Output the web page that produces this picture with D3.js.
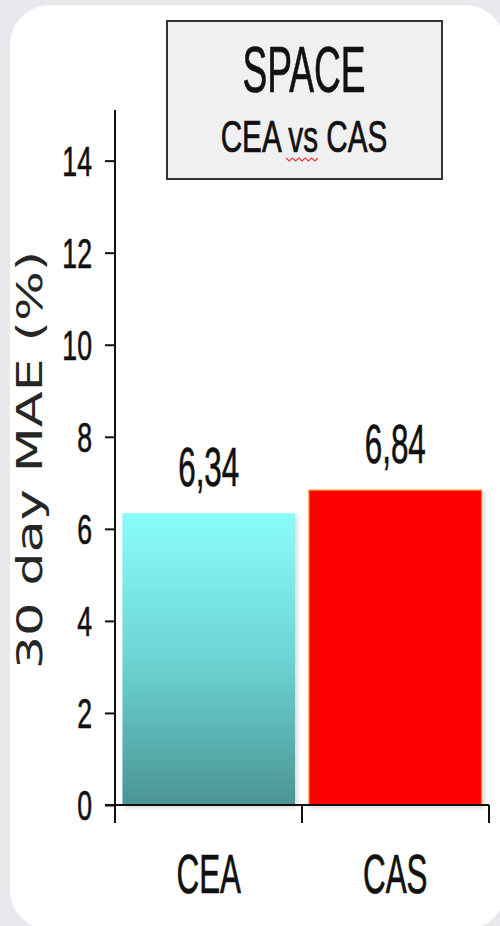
<!DOCTYPE html>
<html>
<head>
<meta charset="utf-8">
<script src="https://cdn.jsdelivr.net/npm/d3@7"></script>
<style>
  html, body { margin: 0; padding: 0; background: #e7e9ec; overflow: hidden; }
  svg { display: block; }
</style>
</head>
<body>
<svg id="chart" width="500" height="926"></svg>
<script>
// Study data: 30-day major adverse events, CEA vs CAS (SPACE trial)
const categories = ["CEA", "CAS"];
const values = [6.34, 6.84];
const yTicks = [0, 2, 4, 6, 8, 10, 12, 14];
const titleLines = ["SPACE", "CEA vs CAS"];
const yTitle = "30 day MAE (%)";

const fmtComma = v => d3.format(".2f")(v).replace(".", ",");

const svg = d3.select("#chart");

// Card background
svg.append("rect")
  .attr("x", 0).attr("y", 0).attr("width", 500).attr("height", 926)
  .attr("fill", "#e7e9ec");
svg.append("rect")
  .attr("x", 10).attr("y", 5).attr("width", 495).attr("height", 925)
  .attr("rx", 40).attr("ry", 40)
  .attr("fill", "#ffffff");

// Gradient for CEA bar
const defs = svg.append("defs");
const grad = defs.append("linearGradient")
  .attr("id", "ceaGrad").attr("x1", 0).attr("y1", 0).attr("x2", 0).attr("y2", 1);
grad.append("stop").attr("offset", "0%").attr("stop-color", "#8afcfc");
grad.append("stop").attr("offset", "50%").attr("stop-color", "#6cd4d4");
grad.append("stop").attr("offset", "100%").attr("stop-color", "#4b9494");

const shadow = defs.append("filter").attr("id", "barShadow")
  .attr("x", "-10%").attr("y", "-10%").attr("width", "130%").attr("height", "130%");
shadow.append("feDropShadow")
  .attr("dx", 2).attr("dy", 2).attr("stdDeviation", 2)
  .attr("flood-color", "#000").attr("flood-opacity", 0.18);

// Scales
const y = d3.scaleLinear().domain([0, 15.1]).range([805, 110]);
const x = d3.scaleBand().domain(categories).range([115, 489])
  .paddingInner(0.075).paddingOuter(0.04);

const barFill = ["url(#ceaGrad)", "#ff0000"];
const barStroke = ["none", "#f08a1e"];

// Bars
svg.append("g").selectAll("rect")
  .data(categories)
  .join("rect")
  .attr("x", d => x(d))
  .attr("y", (d, i) => y(values[i]))
  .attr("width", x.bandwidth())
  .attr("height", (d, i) => y(0) - y(values[i]))
  .attr("fill", (d, i) => barFill[i])
  .attr("stroke", (d, i) => barStroke[i])
  .attr("stroke-width", 1.2)
  .attr("filter", "url(#barShadow)");

// Condensed text helper
function narrowText(parent, tx, ty, text, size, anchor, sx) {
  const g = parent.append("g").attr("transform", `translate(${tx},${ty}) scale(${sx},1)`);
  return g.append("text")
    .attr("text-anchor", anchor)
    .attr("font-family", "'Liberation Sans', Arial, sans-serif")
    .attr("font-size", size)
    .attr("fill", "#111")
    .attr("stroke", "#111")
    .attr("stroke-width", 0.7)
    .text(text);
}

// Value labels above bars
categories.forEach((c, i) => {
  narrowText(svg, x(c) + x.bandwidth() / 2, y(values[i]) - 27, fmtComma(values[i]), 56, "middle", 0.56);
});

// Y axis
const yAxis = svg.append("g").attr("transform", "translate(115,0)")
  .call(d3.axisLeft(y).tickValues(yTicks).tickSize(10).tickFormat(""));
yAxis.select(".domain").remove();
yAxis.selectAll(".tick line").attr("stroke", "#111").attr("stroke-width", 2);
svg.append("line")
  .attr("x1", 115).attr("x2", 115).attr("y1", y.range()[1]).attr("y2", y(0) + 18)
  .attr("stroke", "#111").attr("stroke-width", 2);
yTicks.forEach(t => {
  narrowText(svg, 92, y(t) + 15, String(t), 43, "end", 0.62);
});

// X axis with ticks at category boundaries
const step = x.step();
const bounds = [x.range()[0]]
  .concat(categories.slice(1).map(c => x(c) - step * x.paddingInner() / 2))
  .concat([x.range()[1]]);
svg.append("line")
  .attr("x1", 105).attr("x2", x.range()[1]).attr("y1", y(0)).attr("y2", y(0))
  .attr("stroke", "#111").attr("stroke-width", 2);
svg.append("g").selectAll("line")
  .data(bounds)
  .join("line")
  .attr("x1", d => d).attr("x2", d => d)
  .attr("y1", y(0)).attr("y2", y(0) + 18)
  .attr("stroke", "#111").attr("stroke-width", 2);

categories.forEach(c => {
  narrowText(svg, x(c) + x.bandwidth() / 2, 893, c, 56, "middle", 0.56);
});

// Y axis title
svg.append("text")
  .attr("transform", "translate(42,460) rotate(-90) scale(1.5,1)")
  .attr("text-anchor", "middle")
  .attr("font-family", "'DejaVu Sans', Verdana, sans-serif")
  .attr("font-size", 35)
  .attr("fill", "#262626")
  .text(yTitle);

// Title box
svg.append("rect")
  .attr("x", 167).attr("y", 21).attr("width", 275).attr("height", 158)
  .attr("fill", "#f0f0f0").attr("stroke", "#333").attr("stroke-width", 2);
narrowText(svg, 304, 92, titleLines[0], 64, "middle", 0.58);
narrowText(svg, 304, 152, titleLines[1], 45, "middle", 0.66);

// Red wavy spell-check underline beneath "vs"
const wave = [];
for (let k = 0; k <= 10; k++) wave.push([286 + k * 3.2, 158 + (k % 2 ? 3 : 0)]);
svg.append("path")
  .attr("d", d3.line()(wave))
  .attr("fill", "none").attr("stroke", "#e23b3b").attr("stroke-width", 1.1);
</script>
</body>
</html>
